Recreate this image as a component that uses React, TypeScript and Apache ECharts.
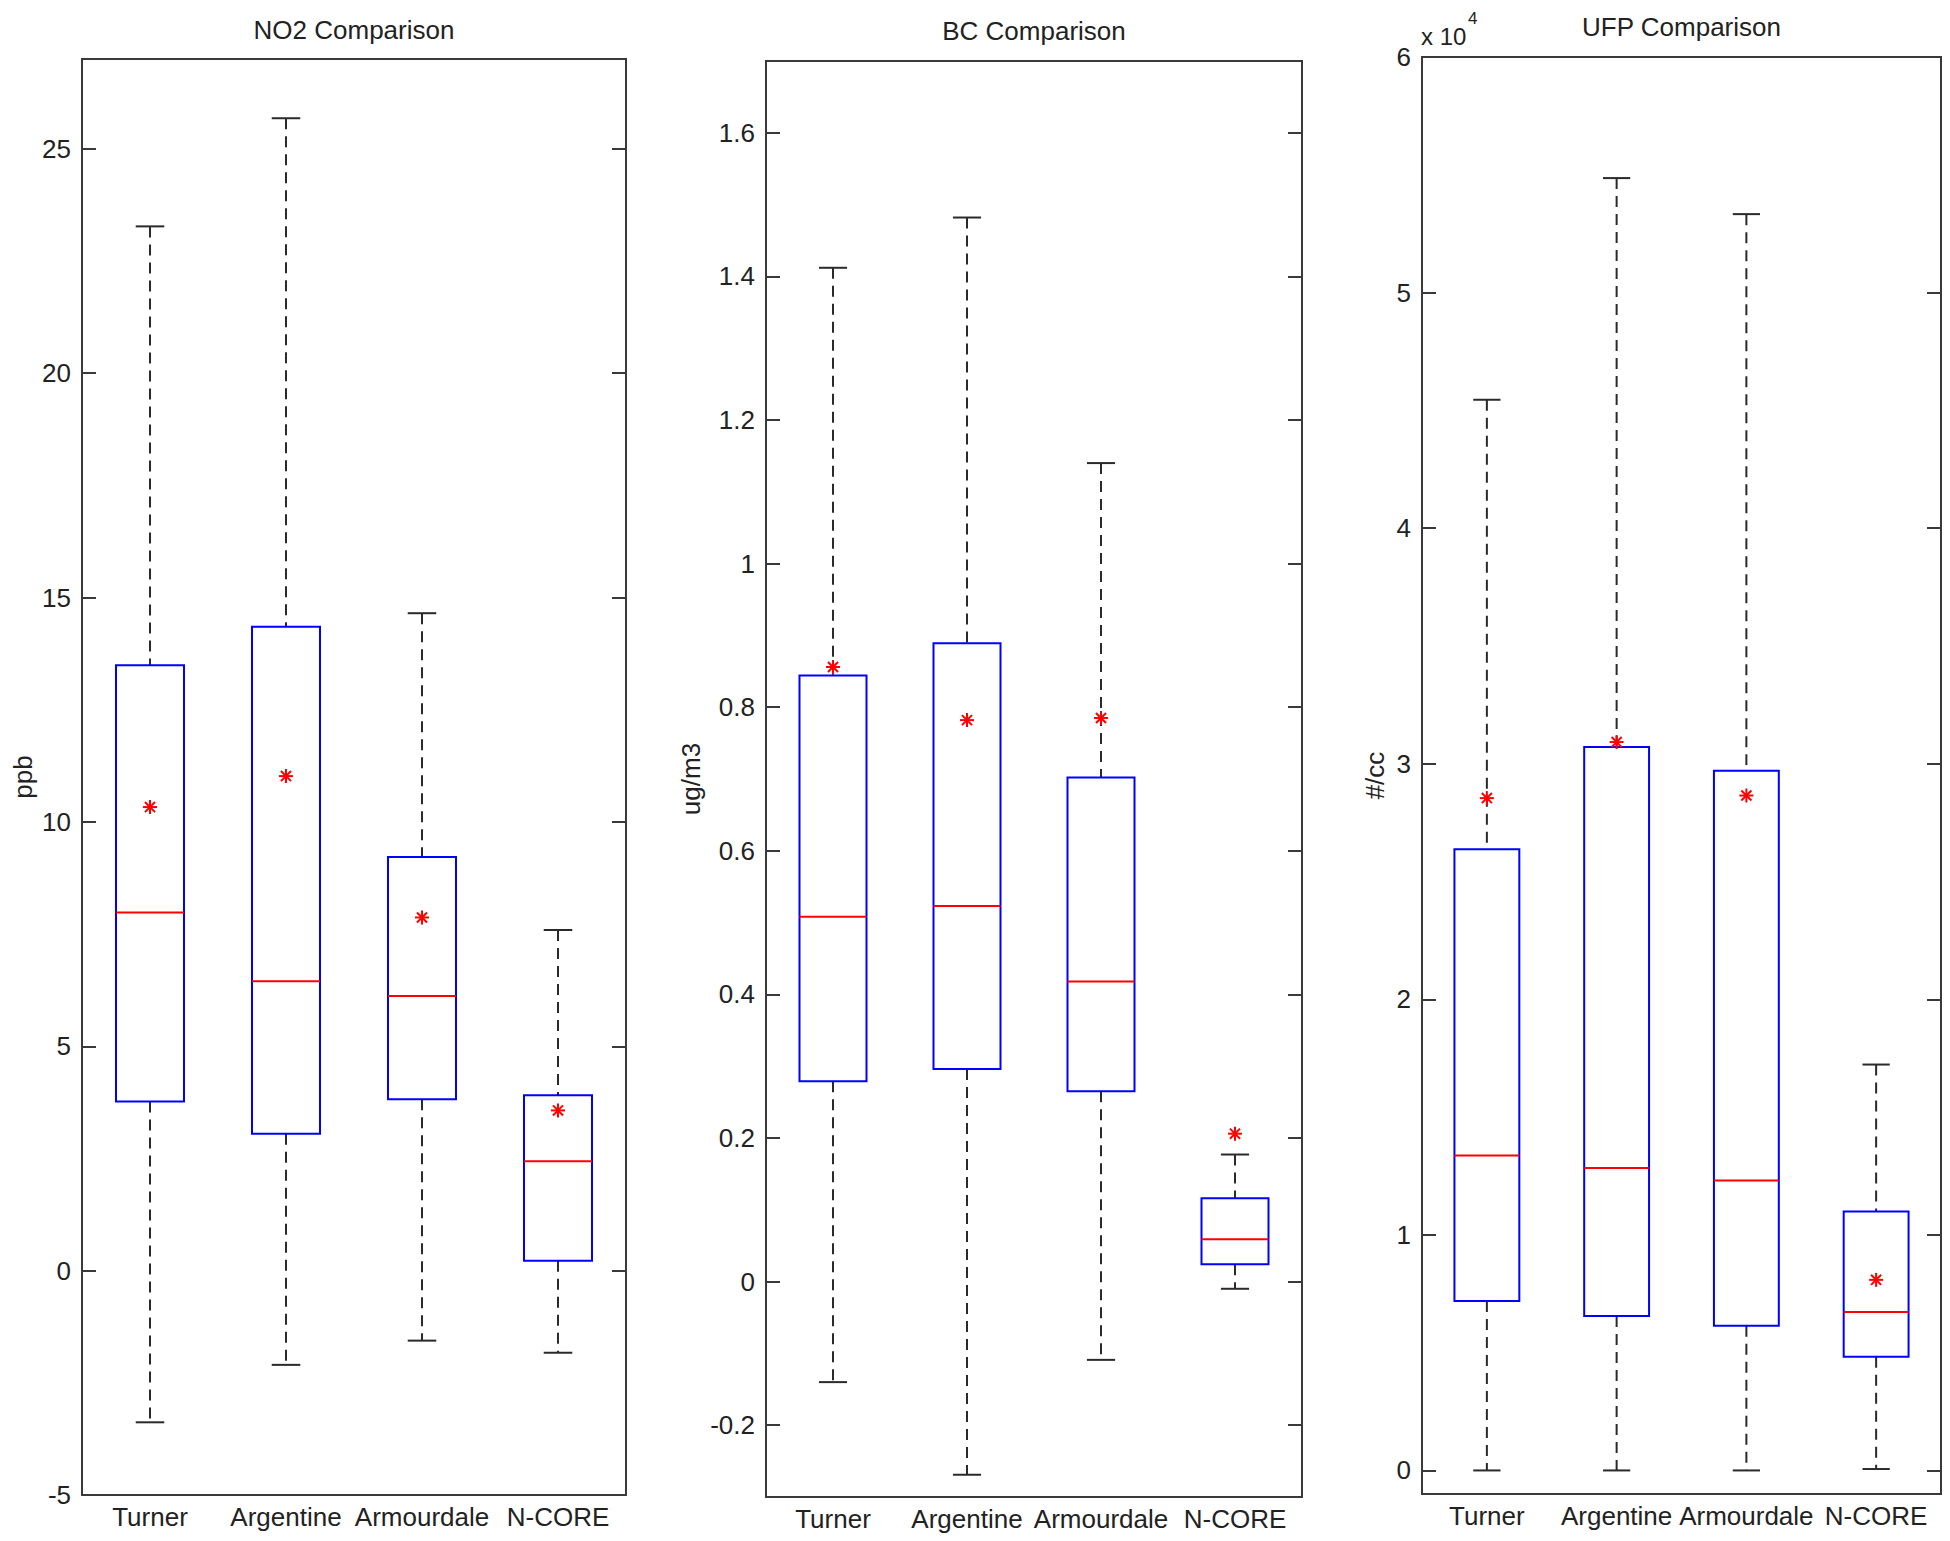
import React, { useEffect, useRef } from "react";
import * as echarts from "echarts";

const categories = ["Turner", "Argentine", "Armourdale", "N-CORE"];

// NO2 (ppb)
const no2Lower = [-3.38, -2.1, -1.56, -1.83];
const no2Q1 = [3.77, 3.05, 3.82, 0.22];
const no2Median = [7.98, 6.45, 6.12, 2.44];
const no2Q3 = [13.49, 14.35, 9.22, 3.91];
const no2Upper = [23.27, 25.68, 14.65, 7.59];
const no2Mean = [10.33, 11.02, 7.87, 3.57];
const no2Ticks = [-5, 0, 5, 10, 15, 20, 25];

// BC (ug/m3)
const bcLower = [-0.14, -0.269, -0.109, -0.01];
const bcQ1 = [0.279, 0.296, 0.265, 0.024];
const bcMedian = [0.508, 0.523, 0.418, 0.059];
const bcQ3 = [0.844, 0.889, 0.702, 0.116];
const bcUpper = [1.412, 1.482, 1.14, 0.177];
const bcMean = [0.856, 0.782, 0.785, 0.206];
const bcTicks = [-0.2, 0, 0.2, 0.4, 0.6, 0.8, 1, 1.2, 1.4, 1.6];

// UFP (#/cc)
const ufpLower = [0, 0, 0, 60];
const ufpQ1 = [7190, 6560, 6140, 4830];
const ufpMedian = [13370, 12840, 12310, 6730];
const ufpQ3 = [26370, 30710, 29700, 10990];
const ufpUpper = [45450, 54860, 53330, 17230];
const ufpMean = [28540, 30920, 28650, 8090];
const ufpTicks = [0, 10000, 20000, 30000, 40000, 50000, 60000];

const FONT = "'Liberation Sans', Arial, Helvetica, sans-serif";
const TXT = "#222222";
const FRAME = "#3a3a3a";

const panels = [
  {
    title: "NO2 Comparison", yName: "ppb", nameGap: 46, titleTop: 17,
    grid: { left: 82, top: 59, width: 544, height: 1436 },
    min: -5, max: 27, ticks: no2Ticks, fmt: (v: number) => String(v),
    lower: no2Lower, q1: no2Q1, med: no2Median, q3: no2Q3, upper: no2Upper, mean: no2Mean,
  },
  {
    title: "BC Comparison", yName: "ug/m3", nameGap: 62, titleTop: 18,
    grid: { left: 766, top: 61, width: 536, height: 1436 },
    min: -0.3, max: 1.7, ticks: bcTicks, fmt: (v: number) => String(Math.round(v * 10) / 10),
    lower: bcLower, q1: bcQ1, med: bcMedian, q3: bcQ3, upper: bcUpper, mean: bcMean,
  },
  {
    title: "UFP Comparison", yName: "#/cc", nameGap: 34, titleTop: 14,
    grid: { left: 1422, top: 57, width: 519, height: 1437 },
    min: -1000, max: 60000, ticks: ufpTicks, fmt: (v: number) => String(Math.round(v / 10000)),
    lower: ufpLower, q1: ufpQ1, med: ufpMedian, q3: ufpQ3, upper: ufpUpper, mean: ufpMean,
  },
];

function renderBox(params: any, api: any) {
  const idx = api.value(0);
  const pLow = api.coord([idx, api.value(1)]);
  const pQ1 = api.coord([idx, api.value(2)]);
  const pMed = api.coord([idx, api.value(3)]);
  const pQ3 = api.coord([idx, api.value(4)]);
  const pUp = api.coord([idx, api.value(5)]);
  const catW = api.size([1, 0])[0];
  const x = pMed[0];
  const bw = catW * 0.5;
  const cw = catW * 0.21;
  const dash = { stroke: "#2a2a2a", lineWidth: 2, lineDash: [11, 7], fill: null };
  const solid = { stroke: "#2a2a2a", lineWidth: 2, fill: null };
  return {
    type: "group",
    children: [
      { type: "line", shape: { x1: x, y1: pUp[1], x2: x, y2: pQ3[1] }, style: dash },
      { type: "line", shape: { x1: x, y1: pQ1[1], x2: x, y2: pLow[1] }, style: dash },
      { type: "line", shape: { x1: x - cw / 2, y1: pUp[1], x2: x + cw / 2, y2: pUp[1] }, style: solid },
      { type: "line", shape: { x1: x - cw / 2, y1: pLow[1], x2: x + cw / 2, y2: pLow[1] }, style: solid },
      {
        type: "rect",
        shape: { x: x - bw / 2, y: pQ3[1], width: bw, height: pQ1[1] - pQ3[1] },
        style: { stroke: "#0000ff", lineWidth: 2, fill: null },
      },
      {
        type: "line",
        shape: { x1: x - bw / 2, y1: pMed[1], x2: x + bw / 2, y2: pMed[1] },
        style: { stroke: "#ff0000", lineWidth: 2 },
      },
    ],
  };
}

function renderStar(params: any, api: any) {
  const p = api.coord([api.value(0), api.value(1)]);
  const r = 7;
  const d = r * 0.72;
  const st = { stroke: "#ff0000", lineWidth: 2 };
  return {
    type: "group",
    children: [
      { type: "line", shape: { x1: p[0], y1: p[1] - r, x2: p[0], y2: p[1] + r }, style: st },
      { type: "line", shape: { x1: p[0] - r, y1: p[1], x2: p[0] + r, y2: p[1] }, style: st },
      { type: "line", shape: { x1: p[0] - d, y1: p[1] - d, x2: p[0] + d, y2: p[1] + d }, style: st },
      { type: "line", shape: { x1: p[0] - d, y1: p[1] + d, x2: p[0] + d, y2: p[1] - d }, style: st },
    ],
  };
}

export default function App() {
  const ref = useRef<HTMLDivElement>(null);
  useEffect(() => {
    if (!ref.current) return;
    const chart = echarts.init(ref.current, null, { renderer: "svg" });
    const grids: any[] = [];
    const xAxes: any[] = [];
    const yAxes: any[] = [];
    const series: any[] = [];
    const titles: any[] = [];
    panels.forEach((p, i) => {
      grids.push({
        ...p.grid,
        show: true,
        borderColor: FRAME,
        borderWidth: 2,
        backgroundColor: "transparent",
        containLabel: false,
      });
      titles.push({
        text: p.title,
        left: p.grid.left + p.grid.width / 2,
        top: p.titleTop,
        textAlign: "center",
        padding: 0,
        textStyle: { fontFamily: FONT, fontSize: 26, fontWeight: "normal", color: TXT },
      });
      xAxes.push({
        type: "category",
        gridIndex: i,
        data: categories,
        boundaryGap: true,
        axisLine: { show: false },
        axisTick: { show: false },
        splitLine: { show: false },
        axisLabel: { fontFamily: FONT, fontSize: 26, color: TXT, margin: 9, interval: 0 },
      });
      const ax = {
        type: "value",
        gridIndex: i,
        min: p.min,
        max: p.max,
        splitLine: { show: false },
        axisLine: { show: false },
      };
      yAxes.push({
        ...ax,
        position: "left",
        name: p.yName,
        nameLocation: "middle",
        nameRotate: 90,
        nameGap: p.nameGap,
        nameTextStyle: { fontFamily: FONT, fontSize: 26, color: TXT },
        axisTick: { show: true, inside: true, length: 14, customValues: p.ticks, lineStyle: { color: FRAME, width: 2 } },
        axisLabel: {
          show: true, customValues: p.ticks, formatter: p.fmt,
          fontFamily: FONT, fontSize: 26, color: TXT, margin: 11,
        },
      });
      yAxes.push({
        ...ax,
        position: "right",
        axisTick: { show: true, inside: true, length: 14, customValues: p.ticks, lineStyle: { color: FRAME, width: 2 } },
        axisLabel: { show: false },
      });
      series.push({
        type: "custom",
        xAxisIndex: i,
        yAxisIndex: i * 2,
        renderItem: renderBox,
        encode: { x: 0, y: [1, 2, 3, 4, 5] },
        data: categories.map((_, k) => [k, p.lower[k], p.q1[k], p.med[k], p.q3[k], p.upper[k]]),
        silent: true,
        clip: false,
      });
      series.push({
        type: "custom",
        xAxisIndex: i,
        yAxisIndex: i * 2,
        renderItem: renderStar,
        encode: { x: 0, y: 1 },
        data: categories.map((_, k) => [k, p.mean[k]]),
        silent: true,
        clip: false,
        z: 5,
      });
    });
    chart.setOption({
      animation: false,
      backgroundColor: "#ffffff",
      title: titles,
      grid: grids,
      xAxis: xAxes,
      yAxis: yAxes,
      series,
      graphic: [
        {
          type: "text",
          left: 1421,
          top: 24,
          style: { text: "x 10", fontFamily: FONT, fontSize: 24, fill: TXT },
        },
        {
          type: "text",
          left: 1468,
          top: 10,
          style: { text: "4", fontFamily: FONT, fontSize: 17, fill: TXT },
        },
      ],
    });
    return () => chart.dispose();
  }, []);
  return (
    <div
      ref={ref}
      style={{ position: "fixed", left: 0, top: 0, width: 1950, height: 1541, background: "#fff" }}
    />
  );
}
